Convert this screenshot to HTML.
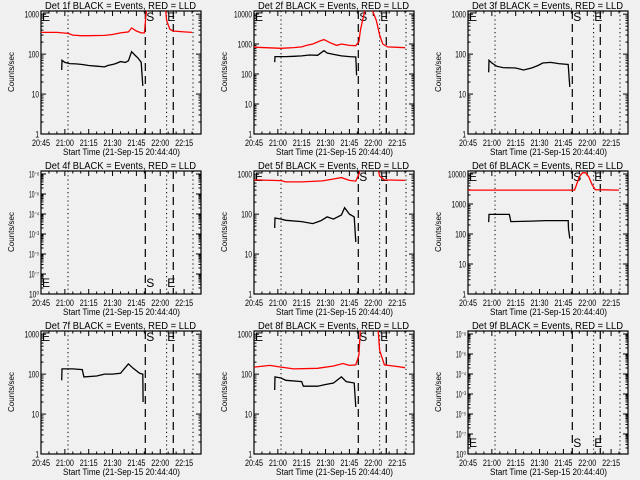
<!DOCTYPE html>
<html><head><meta charset="utf-8"><style>
body{margin:0;background:#f0f0f0;}
svg{display:block;font-family:"Liberation Sans",sans-serif;}
</style></head><body>
<svg id="chart" width="640" height="480" viewBox="0 0 640 480">
<rect width="640" height="480" fill="#f0f0f0"/>
</svg>
<script>
// ---- data (time in minutes after 20:45, values counts/sec) ----
const detNames = ["1f","2f","3f","4f","5f","6f","7f","8f","9f"];
const xTickLabels = ["20:45","21:00","21:15","21:30","21:45","22:00","22:15"];
const dottedLines = [17, 79, 95.6];
const dashedLines = [65.6, 83.2];
const markerTimes = [0, 65.6, 78.8];
const markerLabels = ["E","S","E"];

const black1T = [13,13.2,15,18,22,26,30,35,40,42,45,47,50,53,55,57,59,61,63,64];
const black1V = [40,70,62,58,57,55,52,50,48,52,55,58,65,62,68,115,95,80,62,16];
const red1T = [0,10,17,20,25,30,40,45,50,55,57,60,63,65,66,67,78,79,81,83,90,95];
const red1V = [350,350,330,300,290,290,295,310,340,360,450,380,340,340,900,2000,2000,700,420,380,360,350];

const black2T = [13,13.2,20,25,30,35,40,43,44,46,50,55,60,64,64.5];
const black2V = [250,380,380,390,400,430,420,550,600,500,450,400,380,370,90];
const red2T = [0,17,25,30,33,37,42,44,48,52,55,60,64,66,67,69,70,74,77,79,81,84,95];
const red2V = [780,720,760,800,900,1000,1300,1400,1100,900,1000,900,880,1200,3000,9000,15000,15000,6000,2000,1000,800,750];

const black3T = [13,13.2,15,18,22,30,35,40,44,47,52,57,63,64];
const black3V = [35,70,60,50,46,45,40,45,52,60,62,58,55,15];

const black5T = [13,13.2,17,20,30,37,42,46,50,55,57,60,63,64];
const black5V = [45,80,75,70,65,58,68,85,75,95,145,100,85,20];
const red5T = [0,17,20,30,43,50,55,60,64,66,67,78,79,82,95];
const red5V = [720,690,640,640,680,760,820,700,670,1000,1400,1400,900,720,700];

const black6T = [13,13.2,26,27,40,49,63,63.2,64];
const black6V = [250,450,450,260,270,280,280,150,70];
const red6T = [0,67,68,70,72,74,76,78,80,95];
const red6V = [2900,2900,4000,8000,11000,11000,8000,4500,3000,2900];

const black7T = [13,13.2,20,26,27,35,40,45,50,55,58,62,64,64.2];
const black7V = [70,135,135,130,85,90,100,100,105,180,140,105,100,20];

const black8T = [13,13.2,17,20,30,31,40,45,50,55,58,63,64];
const black8V = [40,85,80,70,65,50,50,55,60,85,65,60,15];
const red8T = [0,10,17,25,40,50,56,60,64,66,67,78,79,82,90,95];
const red8V = [150,165,150,135,140,160,185,165,170,300,1500,1500,400,170,155,145];

const normLabels = ["1","10","100","1000"];
const bigLabels = ["1","10","100","1000","10000"];
const tinyLabels = ["10\u2070","10\u207B\u2077","10\u207B\u2075","10\u207B\u00B3","10\u207B\u2074","10\u207B\u2076","10\u207B\u2078"];

const panels = [
 {lmax:3.08, labels:normLabels, black:[black1T,black1V], red:[red1T,red1V], mk:"top"},
 {lmax:4.1, labels:bigLabels, black:[black2T,black2V], red:[red2T,red2V], mk:"top"},
 {lmax:3.08, labels:normLabels, black:[black3T,black3V], red:null, mk:"top"},
 {lmax:6.15, labels:tinyLabels, black:null, red:null, mk:"bottom", tiny:true},
 {lmax:3.08, labels:normLabels, black:[black5T,black5V], red:[red5T,red5V], mk:"top"},
 {lmax:4.1, labels:bigLabels, black:[black6T,black6V], red:[red6T,red6V], mk:"top"},
 {lmax:3.08, labels:normLabels, black:[black7T,black7V], red:null, mk:"top"},
 {lmax:3.08, labels:normLabels, black:[black8T,black8V], red:[red8T,red8V], mk:"top"},
 {lmax:6.15, labels:tinyLabels, black:null, red:null, mk:"bottom", tiny:true}
];

const NS="http://www.w3.org/2000/svg";
const svg=document.getElementById("chart");
function mk(tag,attrs,parent){const e=document.createElementNS(NS,tag);for(const k in attrs)e.setAttribute(k,attrs[k]);(parent||svg).appendChild(e);return e;}

const PXMIN=1.59;
panels.forEach((p,i)=>{
  const ox=Math.round((i%3)*213.33), oy=Math.floor(i/3)*160;
  const L=ox+41,R=ox+201,T=oy+11,B=oy+134;
  const g=mk("g",{});
  
  
  const xs=t=>L+t*PXMIN;
  const ys=v=>B-(Math.log10(v)/p.lmax)*(B-T);
  const yl=l=>B-(l/p.lmax)*(B-T);
  const cid="clip"+i;
  const cp=mk("clipPath",{id:cid},g);mk("rect",{x:L,y:T,width:R-L,height:B-T},cp);
  // title
  const tt=mk("text",{x:ox+45,y:oy+9,"font-size":"10",textLength:"151",lengthAdjust:"spacingAndGlyphs",fill:"#000"},g);
  tt.textContent="Det "+detNames[i]+" BLACK = Events, RED = LLD";
  
  
  // axes box
  const box=mk("rect",{x:L,y:T,width:R-L,height:B-T,fill:"none",stroke:"#000","stroke-width":"1.2"},g);
  
  
  // x ticks
  xTickLabels.forEach((lab,k)=>{
    const x=xs(k*15);
    mk("line",{x1:x,x2:x,y1:B,y2:B-5,stroke:"#000"},g);
    mk("line",{x1:x,x2:x,y1:T,y2:T+5,stroke:"#000"},g);
    const tx=mk("text",{x:x-9,y:oy+146,"font-size":"9",textLength:"18",lengthAdjust:"spacingAndGlyphs"},g);
    tx.textContent=lab;
    
    
  });
  for(let m=5;m<100;m+=5){ if(m%15===0)continue; const x=xs(m);
    mk("line",{x1:x,x2:x,y1:B,y2:B-2.5,stroke:"#000"},g);
    mk("line",{x1:x,x2:x,y1:T,y2:T+2.5,stroke:"#000"},g);}
  // y ticks
  p.labels.forEach((lab,k)=>{
    const y=yl(k);
    mk("line",{x1:L,x2:L+5,y1:y,y2:y,stroke:"#000"},g);
    mk("line",{x1:R,x2:R-5,y1:y,y2:y,stroke:"#000"},g);
    const w=p.tiny?10:lab.length*3.6;
    const ty=mk("text",{x:L-2-w,y:y+3.5,"font-size":"9",textLength:w,lengthAdjust:"spacingAndGlyphs"},g);
    ty.textContent=lab;
    
    
    for(let m=2;m<10;m++){const l=k+Math.log10(m); if(l>p.lmax)break; const yy=yl(l);
      mk("line",{x1:L,x2:L+2.5,y1:yy,y2:yy,stroke:"#000"},g);
      mk("line",{x1:R,x2:R-2.5,y1:yy,y2:yy,stroke:"#000"},g);}
  });
  const yt=mk("text",{x:ox+14,y:oy+72,"font-size":"8","text-anchor":"middle",transform:`rotate(-90 ${ox+14} ${oy+72})`},g);
  yt.textContent="Counts/sec";
  
  
  const xt=mk("text",{x:ox+63,y:oy+155,"font-size":"9",textLength:"117",lengthAdjust:"spacingAndGlyphs"},g);
  xt.textContent="Start Time (21-Sep-15 20:44:40)";
  
  
  // vertical lines
  dottedLines.forEach(t=>{const l=mk("line",{x1:xs(t),x2:xs(t),y1:T,y2:B,stroke:"#000","stroke-dasharray":"1.2 3"},g);
    
    });
  dashedLines.forEach(t=>{const l=mk("line",{x1:xs(t),x2:xs(t),y1:T,y2:B,stroke:"#000","stroke-dasharray":"8 5","stroke-width":"1.2"},g);
    
    });
  // markers
  markerTimes.forEach((t,k)=>{
    const y=p.mk==="top"?T+10:B-7;
    const m=mk("text",{x:xs(t)+1,y:y,"font-size":"12"},g);
    m.textContent=markerLabels[k];
    
    
  });
  // series
  const drawSeries=(s,color,name)=>{
    if(!s)return;
    const [ts,vs]=s;
    const d=ts.map((t,k)=>(k?"L":"M")+xs(t).toFixed(1)+","+ys(vs[k]).toFixed(1)).join("");
    const pth=mk("path",{d:d,fill:"none",stroke:color,"stroke-width":"1.3","clip-path":`url(#${cid})`},g);
    
    
  };
  drawSeries(p.red,"#ff0000","red-lld-series");
  drawSeries(p.black,"#000000","black-events-series");
});
</script>
</body></html>
